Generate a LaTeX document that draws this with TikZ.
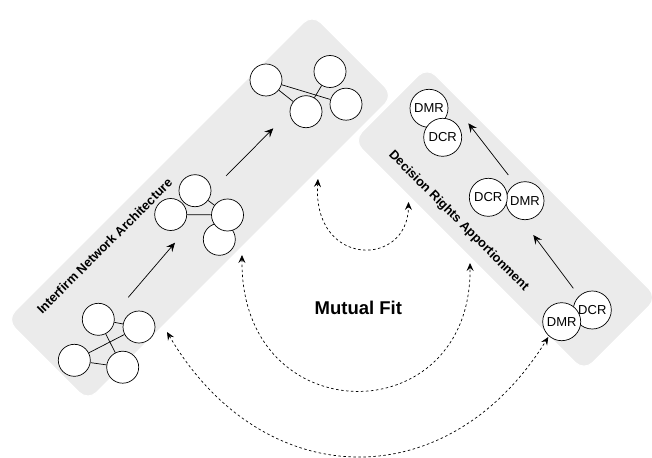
\documentclass[tikz,border=0pt]{standalone}
\usepackage{fontspec}
\setmainfont{Liberation Sans}
\usetikzlibrary{arrows.meta}
\definecolor{bandgray}{HTML}{EBEBEB}

\begin{document}
\begin{tikzpicture}[x=1pt,y=-1pt,
  band/.style={draw=white, line width=1pt, fill=bandgray, rounded corners=12pt, inner sep=0pt},
  firm/.style={circle, draw, fill=white, line width=0.7pt, minimum size=32pt, inner sep=0pt},
  role/.style={circle, draw, fill=white, line width=0.7pt, minimum size=38pt, inner sep=0pt, font=\fontsize{13}{13}\selectfont},
  tie/.style={line width=0.7pt},
  flow/.style={line width=0.7pt, -{Stealth[length=9pt,width=8pt,inset=3.5pt]}},
  fitarc/.style={line width=0.7pt, dash pattern=on 2.5pt off 2.5pt,
    {Stealth[length=8pt,width=7pt,inset=3pt]}-{Stealth[length=8pt,width=7pt,inset=3pt]}},
  bandlabel/.style={font=\fontsize{12.8}{12.8}\selectfont\bfseries, inner sep=0pt}
]
\useasboundingbox (0,0) rectangle (652,457);

% the two bands
\node[band, minimum width=432pt, minimum height=115pt, rotate=45] (netband) at (200,207.5) {};
\node[band, minimum width=326pt, minimum height=104pt, rotate=-45] (drband) at (505.5,219) {};

\node[bandlabel, rotate=45] (netlabel) at (104.5,246) {Interfirm Network Architecture};
\node[bandlabel, rotate=-45] (drlabel) at (458.5,221) {Decision Rights Apportionment};

% network stage 1
\node[firm] (a1) at (98.3,319.3) {};
\node[firm] (b1) at (139,327) {};
\node[firm] (c1) at (74.3,360.3) {};
\node[firm] (d1) at (122.7,367.2) {};
\draw[tie] (a1) -- (b1);
\draw[tie] (c1) -- (b1);
\draw[tie] (a1) -- (d1);
\draw[tie] (c1) -- (d1);

% network stage 2
\node[firm] (h2) at (219.3,239.3) {};
\node[firm] (e2) at (195,190.7) {};
\node[firm] (f2) at (170.7,214.5) {};
\node[firm] (g2) at (227.5,215) {};
\draw[tie] (e2) -- (g2);
\draw[tie] (f2) -- (g2);

% network stage 3
\node[firm] (i3) at (266,80) {};
\node[firm] (j3) at (330,71.5) {};
\node[firm] (k3) at (306,111.7) {};
\node[firm] (l3) at (346,104.2) {};
\draw[tie] (i3) -- (l3);
\draw[tie] (j3) -- (k3);
\draw[tie] (i3) -- (k3);

% stage arrows along the network band
\coordinate (n1s) at (128.3,297.3);
\coordinate (n1e) at (175,242.7);
\coordinate (n2s) at (226,176);
\coordinate (n2e) at (273.3,128.3);
\draw[flow] (n1s) -- (n1e);
\draw[flow] (n2s) -- (n2e);

% decision rights stages
\node[role] (dcr3) at (592.3,310) {DCR};
\node[role] (dmr3) at (561.7,321.7) {DMR};
\node[role] (dmr2) at (525,200.7) {DMR};
\node[role] (dcr2) at (488.3,197.3) {DCR};
\node[role] (dmr1) at (429,108.3) {DMR};
\node[role] (dcr1) at (442.7,137.3) {DCR};

\coordinate (d1s) at (573.3,288.3);
\coordinate (d1e) at (533.3,235);
\coordinate (d2s) at (508.3,175);
\coordinate (d2e) at (468.3,123.3);
\draw[flow] (d1s) -- (d1e);
\draw[flow] (d2s) -- (d2e);

% mutual fit
\node[font=\fontsize{18.5}{18.5}\selectfont\bfseries, inner sep=0pt] (fit) at (358.3,307.5) {Mutual Fit};

\coordinate (inL) at (318,179);
\coordinate (inR) at (408.5,202);
\coordinate (midL) at (242,255);
\coordinate (midR) at (470,263);
\coordinate (outL) at (167,332);
\coordinate (outR) at (548.3,337);
\draw[fitarc] (inL) .. controls (312,268) and (408,268) .. (inR);
\draw[fitarc] (midL) .. controls (240,434) and (472,434) .. (midR);
\draw[fitarc] (outL) .. controls (262,494) and (448,499) .. (outR);
\end{tikzpicture}
\end{document}
